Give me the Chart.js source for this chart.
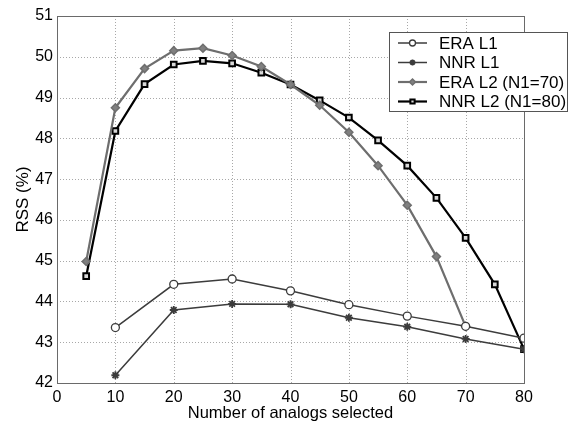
<!DOCTYPE html>
<html><head><meta charset="utf-8">
<script src="https://cdn.jsdelivr.net/npm/chart.js@4/dist/chart.umd.min.js"></script>
<style>html,body{margin:0;padding:0;background:#fff;overflow:hidden}</style>
</head><body><canvas id="c" width="569" height="425"></canvas>
<script>
const xL1 = [10, 20, 30, 40, 50, 60, 70, 80];
const eraL1 = [43.36, 44.42, 44.55, 44.26, 43.92, 43.64, 43.39, 43.10];
const nnrL1 = [42.19, 43.79, 43.94, 43.93, 43.60, 43.38, 43.08, 42.83];
const xEraL2 = [5, 10, 15, 20, 25, 30, 35, 40, 45, 50, 55, 60, 65, 70];
const eraL2 = [44.98, 48.75, 49.71, 50.15, 50.21, 50.03, 49.76, 49.32, 48.81, 48.15, 47.33, 46.36, 45.10, 43.39];
const xNnrL2 = [5, 10, 15, 20, 25, 30, 35, 40, 45, 50, 55, 60, 65, 70, 75, 80];
const nnrL2 = [44.62, 48.18, 49.33, 49.81, 49.90, 49.84, 49.61, 49.32, 48.93, 48.51, 47.95, 47.33, 46.54, 45.56, 44.42, 42.83];
const seriesLabels = ['ERA L1', 'NNR L1', 'ERA L2 (N1=70)', 'NNR L2 (N1=80)'];
const xTicks = [0, 10, 20, 30, 40, 50, 60, 70, 80];
const yTicks = [42, 43, 44, 45, 46, 47, 48, 49, 50, 51];

const FONT = '"Liberation Sans", Arial, Helvetica, sans-serif';
const pts = (xs, ys) => xs.map((x, i) => ({x: x, y: ys[i]}));

const datasets = [
  {label: seriesLabels[0], data: pts(xL1, eraL1), borderColor: '#3c3c3c', borderWidth: 1.5,
   pointStyle: 'circle', pointRadius: 4, pointBorderWidth: 1.3, pointBorderColor: '#3c3c3c', pointBackgroundColor: '#ffffff'},
  {label: seriesLabels[1], data: pts(xL1, nnrL1), borderColor: '#3c3c3c', borderWidth: 1.5,
   pointStyle: 'star', pointRadius: 4, pointBorderWidth: 1.8, pointBorderColor: '#3c3c3c', pointBackgroundColor: '#3c3c3c'},
  {label: seriesLabels[2], data: pts(xEraL2, eraL2), borderColor: '#6e6e6e', borderWidth: 2.2,
   pointStyle: 'rectRot', pointRadius: 4, pointBorderWidth: 1.5, pointBorderColor: '#6e6e6e', pointBackgroundColor: '#808080'},
  {label: seriesLabels[3], data: pts(xNnrL2, nnrL2), borderColor: '#000000', borderWidth: 2.2,
   pointStyle: 'rect', pointRadius: 4, pointBorderWidth: 2, pointBorderColor: '#000000', pointBackgroundColor: '#d8d8d8'}
];

const dottedGrid = {
  id: 'dottedGrid',
  beforeDatasetsDraw(chart) {
    const ctx = chart.ctx, a = chart.chartArea, sx = chart.scales.x, sy = chart.scales.y;
    ctx.save();
    ctx.strokeStyle = '#a8a8a8'; ctx.lineWidth = 1; ctx.setLineDash([1, 2]);
    xTicks.forEach(v => {
      const px = Math.round(sx.getPixelForValue(v)) + 0.5;
      if (v === xTicks[0] || v === xTicks[xTicks.length - 1]) return;
      ctx.beginPath(); ctx.moveTo(px, a.top); ctx.lineTo(px, a.bottom); ctx.stroke();
    });
    yTicks.forEach(v => {
      const py = Math.round(sy.getPixelForValue(v)) + 0.5;
      if (v === yTicks[0] || v === yTicks[yTicks.length - 1]) return;
      ctx.beginPath(); ctx.moveTo(a.left, py); ctx.lineTo(a.right, py); ctx.stroke();
    });
    ctx.restore();
  }
};

const boxLegend = {
  id: 'boxLegend',
  afterDraw(chart) {
    const ctx = chart.ctx, a = chart.chartArea;
    ctx.save();
    ctx.strokeStyle = '#6a6a6a'; ctx.lineWidth = 1; ctx.setLineDash([]);
    ctx.strokeRect(Math.round(a.left) + 0.5, Math.round(a.top) + 0.5, Math.round(a.right - a.left), Math.round(a.bottom - a.top));
    const bx = 389.5, by = 32.5, bw = 178, bh = 79;
    ctx.fillStyle = '#ffffff'; ctx.fillRect(bx, by, bw, bh);
    ctx.strokeStyle = '#555555'; ctx.strokeRect(bx, by, bw, bh);
    ctx.font = '17px ' + FONT; ctx.textBaseline = 'middle'; ctx.textAlign = 'left';
    chart.data.datasets.forEach((ds, i) => {
      const y = 43 + i * 19.5;
      ctx.strokeStyle = ds.borderColor; ctx.lineWidth = ds.borderWidth;
      ctx.beginPath(); ctx.moveTo(398, y); ctx.lineTo(427, y); ctx.stroke();
      ctx.fillStyle = ds.pointBackgroundColor; ctx.strokeStyle = ds.pointBorderColor;
      ctx.lineWidth = ds.pointBorderWidth;
      Chart.helpers.drawPoint(ctx, {pointStyle: ds.pointStyle, radius: 3, rotation: 0, borderWidth: ds.pointBorderWidth}, 412.5, y);
      ctx.fillStyle = '#000000';
      ctx.fillText(ds.label, 439, y + 1);
    });
    ctx.restore();
  }
};

new Chart(document.getElementById('c'), {
  type: 'line',
  data: {datasets: datasets},
  plugins: [dottedGrid, boxLegend],
  options: {
    responsive: false, animation: false, devicePixelRatio: 1,
    layout: {padding: {top: 16, right: 45, left: 0, bottom: 0}},
    plugins: {legend: {display: false}, tooltip: {enabled: false}},
    elements: {line: {tension: 0}},
    scales: {
      x: {
        type: 'linear', min: 0, max: 80,
        afterBuildTicks: s => { s.ticks = xTicks.map(v => ({value: v})); },
        afterFit: s => { s.height = 42; },
        grid: {display: false, drawTicks: false},
        border: {display: false},
        ticks: {color: '#000', font: {family: FONT, size: 16}, padding: 5, maxRotation: 0},
        title: {display: true, text: 'Number of analogs selected', color: '#000', font: {family: FONT, size: 16.5}, padding: {top: 0, bottom: 2}}
      },
      y: {
        min: 42, max: 51,
        afterBuildTicks: s => { s.ticks = yTicks.map(v => ({value: v})); },
        afterFit: s => { s.width = 57; },
        grid: {display: false, drawTicks: false},
        border: {display: false},
        ticks: {color: '#000', font: {family: FONT, size: 16}, padding: 4},
        title: {display: true, text: 'RSS (%)', color: '#000', font: {family: FONT, size: 17}, padding: {top: 13, bottom: 0}}
      }
    }
  }
});
</script>
</body></html>
